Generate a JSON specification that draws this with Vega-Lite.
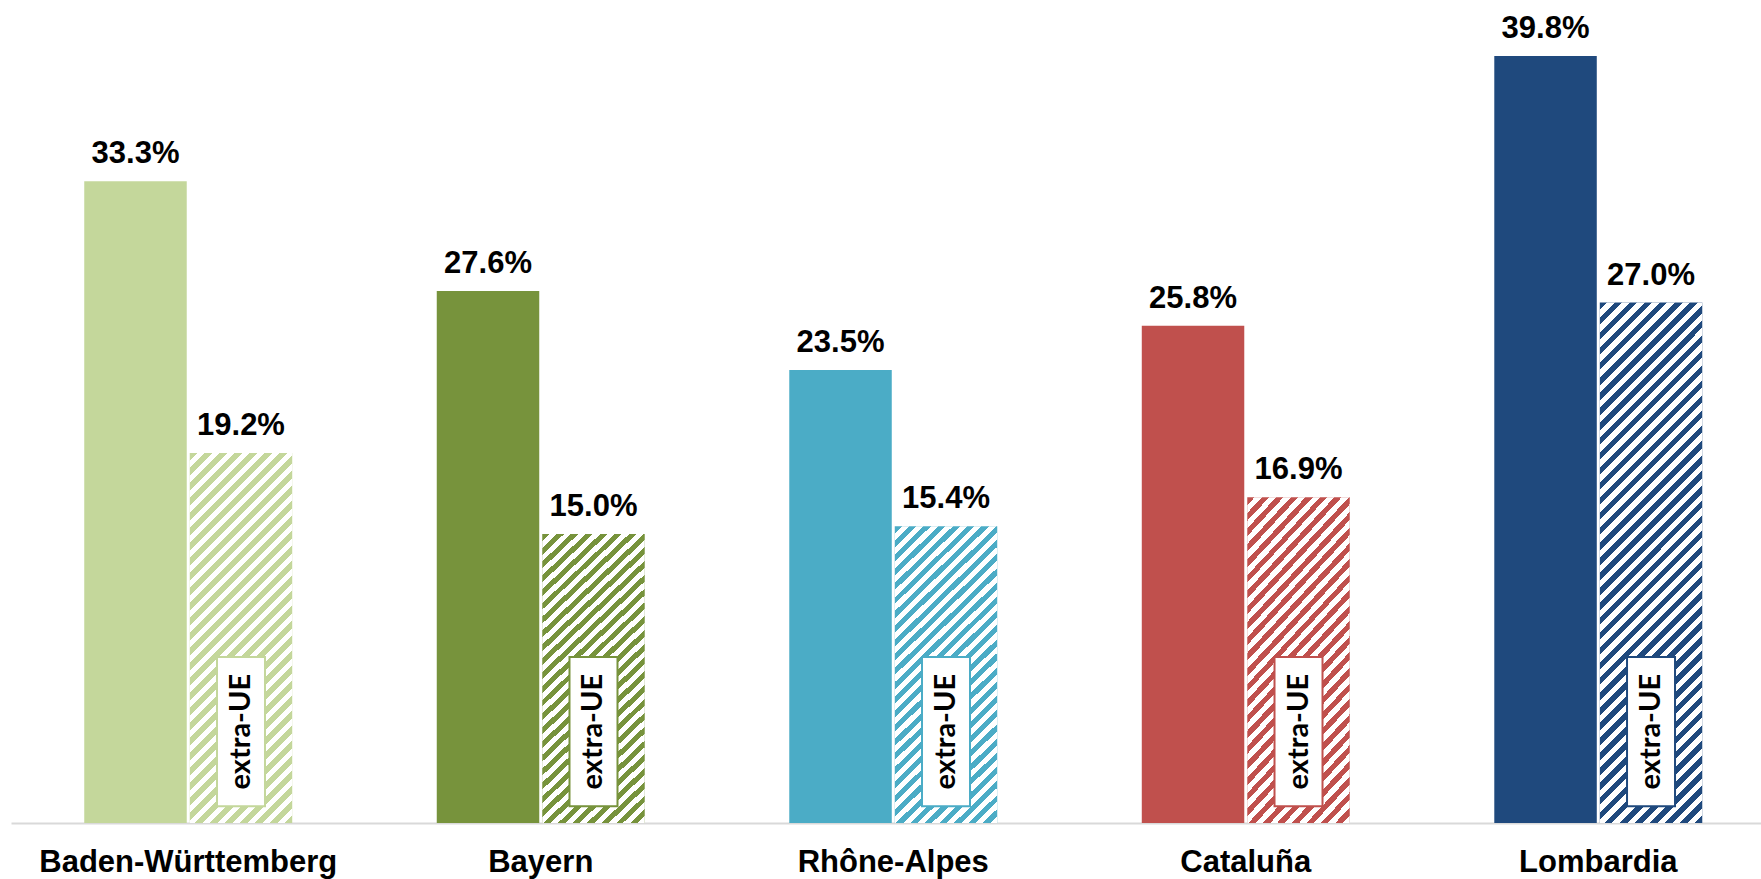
{"$schema":"https://vega.github.io/schema/vega-lite/v6.json",
"width":1750,"height":823,
"autosize":{"type":"none"},
"padding":{"left":11,"top":0,"right":0,"bottom":56},
"background":"white",
"config":{"view":{"stroke":null}},
"data":{"values":[
{"region":"Baden-Württemberg","type":"total","value":0.333},
{"region":"Baden-Württemberg","type":"extra","value":0.192},
{"region":"Bayern","type":"total","value":0.276},
{"region":"Bayern","type":"extra","value":0.150},
{"region":"Rhône-Alpes","type":"total","value":0.235},
{"region":"Rhône-Alpes","type":"extra","value":0.154},
{"region":"Cataluña","type":"total","value":0.258},
{"region":"Cataluña","type":"extra","value":0.169},
{"region":"Lombardia","type":"total","value":0.398},
{"region":"Lombardia","type":"extra","value":0.270}
]},
"encoding":{
"x":{"field":"region","type":"nominal","sort":["Baden-Württemberg","Bayern","Rhône-Alpes","Cataluña","Lombardia"],
"scale":{"paddingInner":0.41,"paddingOuter":0.1872,"align":0.555,"round":false},
"axis":{"title":null,"labelAngle":0,"ticks":false,"tickSize":0,"labelPadding":48,"labelBaseline":"alphabetic","labelFont":"Liberation Sans","labelFontWeight":"bold","labelFontSize":31,"labelColor":"#000","labelLimit":0,"labelOverlap":false,"domainColor":"#d9d9d9","domainWidth":2,"grid":false}},
"xOffset":{"field":"type","type":"nominal","sort":["total","extra"],"scale":{"domain":["total","extra"],"paddingInner":0.02844,"paddingOuter":0,"round":false}}
},
"layer":[
{"mark":{"type":"bar"},
"encoding":{"y":{"field":"value","type":"quantitative","scale":{"domain":[0,0.427],"nice":false,"zero":true},"axis":null},
"color":{"field":"region","type":"nominal","scale":{"domain":["Baden-Württemberg","Bayern","Rhône-Alpes","Cataluña","Lombardia"],"range":["#c4d79b","#77933c","#4bacc6","#c0504d","#1f497d"]},"legend":null}}},
{"transform":[{"filter":"datum.type==='extra' && (datum.region==='Bayern' || datum.region==='Rhône-Alpes' || datum.region==='Cataluña')"}],
"mark":{"type":"bar","fill":{"gradient":"linear","x1":0,"y1":0,"x2":0.405,"y2":1.201,"stops":[
{"offset":0,"color":"transparent"},
{"offset":0.018,"color":"transparent"},{"offset":0.018,"color":"#fff"},
{"offset":0.036,"color":"#fff"},{"offset":0.036,"color":"transparent"},
{"offset":0.054,"color":"transparent"},{"offset":0.054,"color":"#fff"},
{"offset":0.071,"color":"#fff"},{"offset":0.071,"color":"transparent"},
{"offset":0.089,"color":"transparent"},{"offset":0.089,"color":"#fff"},
{"offset":0.107,"color":"#fff"},{"offset":0.107,"color":"transparent"},
{"offset":0.125,"color":"transparent"},{"offset":0.125,"color":"#fff"},
{"offset":0.143,"color":"#fff"},{"offset":0.143,"color":"transparent"},
{"offset":0.161,"color":"transparent"},{"offset":0.161,"color":"#fff"},
{"offset":0.179,"color":"#fff"},{"offset":0.179,"color":"transparent"},
{"offset":0.196,"color":"transparent"},{"offset":0.196,"color":"#fff"},
{"offset":0.214,"color":"#fff"},{"offset":0.214,"color":"transparent"},
{"offset":0.232,"color":"transparent"},{"offset":0.232,"color":"#fff"},
{"offset":0.25,"color":"#fff"},{"offset":0.25,"color":"transparent"},
{"offset":0.268,"color":"transparent"},{"offset":0.268,"color":"#fff"},
{"offset":0.286,"color":"#fff"},{"offset":0.286,"color":"transparent"},
{"offset":0.304,"color":"transparent"},{"offset":0.304,"color":"#fff"},
{"offset":0.321,"color":"#fff"},{"offset":0.321,"color":"transparent"},
{"offset":0.339,"color":"transparent"},{"offset":0.339,"color":"#fff"},
{"offset":0.357,"color":"#fff"},{"offset":0.357,"color":"transparent"},
{"offset":0.375,"color":"transparent"},{"offset":0.375,"color":"#fff"},
{"offset":0.393,"color":"#fff"},{"offset":0.393,"color":"transparent"},
{"offset":0.411,"color":"transparent"},{"offset":0.411,"color":"#fff"},
{"offset":0.429,"color":"#fff"},{"offset":0.429,"color":"transparent"},
{"offset":0.446,"color":"transparent"},{"offset":0.446,"color":"#fff"},
{"offset":0.464,"color":"#fff"},{"offset":0.464,"color":"transparent"},
{"offset":0.482,"color":"transparent"},{"offset":0.482,"color":"#fff"},
{"offset":0.5,"color":"#fff"},{"offset":0.5,"color":"transparent"},
{"offset":0.518,"color":"transparent"},{"offset":0.518,"color":"#fff"},
{"offset":0.536,"color":"#fff"},{"offset":0.536,"color":"transparent"},
{"offset":0.554,"color":"transparent"},{"offset":0.554,"color":"#fff"},
{"offset":0.571,"color":"#fff"},{"offset":0.571,"color":"transparent"},
{"offset":0.589,"color":"transparent"},{"offset":0.589,"color":"#fff"},
{"offset":0.607,"color":"#fff"},{"offset":0.607,"color":"transparent"},
{"offset":0.625,"color":"transparent"},{"offset":0.625,"color":"#fff"},
{"offset":0.643,"color":"#fff"},{"offset":0.643,"color":"transparent"},
{"offset":0.661,"color":"transparent"},{"offset":0.661,"color":"#fff"},
{"offset":0.679,"color":"#fff"},{"offset":0.679,"color":"transparent"},
{"offset":0.696,"color":"transparent"},{"offset":0.696,"color":"#fff"},
{"offset":0.714,"color":"#fff"},{"offset":0.714,"color":"transparent"},
{"offset":0.732,"color":"transparent"},{"offset":0.732,"color":"#fff"},
{"offset":0.75,"color":"#fff"},{"offset":0.75,"color":"transparent"},
{"offset":0.768,"color":"transparent"},{"offset":0.768,"color":"#fff"},
{"offset":0.786,"color":"#fff"},{"offset":0.786,"color":"transparent"},
{"offset":0.804,"color":"transparent"},{"offset":0.804,"color":"#fff"},
{"offset":0.821,"color":"#fff"},{"offset":0.821,"color":"transparent"},
{"offset":0.839,"color":"transparent"},{"offset":0.839,"color":"#fff"},
{"offset":0.857,"color":"#fff"},{"offset":0.857,"color":"transparent"},
{"offset":0.875,"color":"transparent"},{"offset":0.875,"color":"#fff"},
{"offset":0.893,"color":"#fff"},{"offset":0.893,"color":"transparent"},
{"offset":0.911,"color":"transparent"},{"offset":0.911,"color":"#fff"},
{"offset":0.929,"color":"#fff"},{"offset":0.929,"color":"transparent"},
{"offset":0.946,"color":"transparent"},{"offset":0.946,"color":"#fff"},
{"offset":0.964,"color":"#fff"},{"offset":0.964,"color":"transparent"},
{"offset":0.982,"color":"transparent"},{"offset":0.982,"color":"#fff"},
{"offset":1,"color":"#fff"}]}},
"encoding":{"y":{"field":"value","type":"quantitative"}}},
{"transform":[{"filter":"datum.type==='extra' && datum.region==='Baden-Württemberg'"}],
"mark":{"type":"bar","fill":{"gradient":"linear","x1":0,"y1":0,"x2":0.3285,"y2":1.186,"stops":[
{"offset":0,"color":"transparent"},
{"offset":0.016,"color":"transparent"},{"offset":0.016,"color":"#fff"},
{"offset":0.032,"color":"#fff"},{"offset":0.032,"color":"transparent"},
{"offset":0.048,"color":"transparent"},{"offset":0.048,"color":"#fff"},
{"offset":0.063,"color":"#fff"},{"offset":0.063,"color":"transparent"},
{"offset":0.079,"color":"transparent"},{"offset":0.079,"color":"#fff"},
{"offset":0.095,"color":"#fff"},{"offset":0.095,"color":"transparent"},
{"offset":0.111,"color":"transparent"},{"offset":0.111,"color":"#fff"},
{"offset":0.127,"color":"#fff"},{"offset":0.127,"color":"transparent"},
{"offset":0.143,"color":"transparent"},{"offset":0.143,"color":"#fff"},
{"offset":0.159,"color":"#fff"},{"offset":0.159,"color":"transparent"},
{"offset":0.175,"color":"transparent"},{"offset":0.175,"color":"#fff"},
{"offset":0.19,"color":"#fff"},{"offset":0.19,"color":"transparent"},
{"offset":0.206,"color":"transparent"},{"offset":0.206,"color":"#fff"},
{"offset":0.222,"color":"#fff"},{"offset":0.222,"color":"transparent"},
{"offset":0.238,"color":"transparent"},{"offset":0.238,"color":"#fff"},
{"offset":0.254,"color":"#fff"},{"offset":0.254,"color":"transparent"},
{"offset":0.27,"color":"transparent"},{"offset":0.27,"color":"#fff"},
{"offset":0.286,"color":"#fff"},{"offset":0.286,"color":"transparent"},
{"offset":0.302,"color":"transparent"},{"offset":0.302,"color":"#fff"},
{"offset":0.317,"color":"#fff"},{"offset":0.317,"color":"transparent"},
{"offset":0.333,"color":"transparent"},{"offset":0.333,"color":"#fff"},
{"offset":0.349,"color":"#fff"},{"offset":0.349,"color":"transparent"},
{"offset":0.365,"color":"transparent"},{"offset":0.365,"color":"#fff"},
{"offset":0.381,"color":"#fff"},{"offset":0.381,"color":"transparent"},
{"offset":0.397,"color":"transparent"},{"offset":0.397,"color":"#fff"},
{"offset":0.413,"color":"#fff"},{"offset":0.413,"color":"transparent"},
{"offset":0.429,"color":"transparent"},{"offset":0.429,"color":"#fff"},
{"offset":0.444,"color":"#fff"},{"offset":0.444,"color":"transparent"},
{"offset":0.46,"color":"transparent"},{"offset":0.46,"color":"#fff"},
{"offset":0.476,"color":"#fff"},{"offset":0.476,"color":"transparent"},
{"offset":0.492,"color":"transparent"},{"offset":0.492,"color":"#fff"},
{"offset":0.508,"color":"#fff"},{"offset":0.508,"color":"transparent"},
{"offset":0.524,"color":"transparent"},{"offset":0.524,"color":"#fff"},
{"offset":0.54,"color":"#fff"},{"offset":0.54,"color":"transparent"},
{"offset":0.556,"color":"transparent"},{"offset":0.556,"color":"#fff"},
{"offset":0.571,"color":"#fff"},{"offset":0.571,"color":"transparent"},
{"offset":0.587,"color":"transparent"},{"offset":0.587,"color":"#fff"},
{"offset":0.603,"color":"#fff"},{"offset":0.603,"color":"transparent"},
{"offset":0.619,"color":"transparent"},{"offset":0.619,"color":"#fff"},
{"offset":0.635,"color":"#fff"},{"offset":0.635,"color":"transparent"},
{"offset":0.651,"color":"transparent"},{"offset":0.651,"color":"#fff"},
{"offset":0.667,"color":"#fff"},{"offset":0.667,"color":"transparent"},
{"offset":0.683,"color":"transparent"},{"offset":0.683,"color":"#fff"},
{"offset":0.698,"color":"#fff"},{"offset":0.698,"color":"transparent"},
{"offset":0.714,"color":"transparent"},{"offset":0.714,"color":"#fff"},
{"offset":0.73,"color":"#fff"},{"offset":0.73,"color":"transparent"},
{"offset":0.746,"color":"transparent"},{"offset":0.746,"color":"#fff"},
{"offset":0.762,"color":"#fff"},{"offset":0.762,"color":"transparent"},
{"offset":0.778,"color":"transparent"},{"offset":0.778,"color":"#fff"},
{"offset":0.794,"color":"#fff"},{"offset":0.794,"color":"transparent"},
{"offset":0.81,"color":"transparent"},{"offset":0.81,"color":"#fff"},
{"offset":0.825,"color":"#fff"},{"offset":0.825,"color":"transparent"},
{"offset":0.841,"color":"transparent"},{"offset":0.841,"color":"#fff"},
{"offset":0.857,"color":"#fff"},{"offset":0.857,"color":"transparent"},
{"offset":0.873,"color":"transparent"},{"offset":0.873,"color":"#fff"},
{"offset":0.889,"color":"#fff"},{"offset":0.889,"color":"transparent"},
{"offset":0.905,"color":"transparent"},{"offset":0.905,"color":"#fff"},
{"offset":0.921,"color":"#fff"},{"offset":0.921,"color":"transparent"},
{"offset":0.937,"color":"transparent"},{"offset":0.937,"color":"#fff"},
{"offset":0.952,"color":"#fff"},{"offset":0.952,"color":"transparent"},
{"offset":0.968,"color":"transparent"},{"offset":0.968,"color":"#fff"},
{"offset":0.984,"color":"#fff"},{"offset":0.984,"color":"transparent"},
{"offset":1,"color":"transparent"}]}},
"encoding":{"y":{"field":"value","type":"quantitative"}}},
{"transform":[{"filter":"datum.type==='extra' && datum.region==='Lombardia'"}],
"mark":{"type":"bar","fill":{"gradient":"linear","x1":0,"y1":0,"x2":0.227,"y2":1.152,"stops":[
{"offset":0,"color":"transparent"},
{"offset":0.012,"color":"transparent"},{"offset":0.012,"color":"#fff"},
{"offset":0.024,"color":"#fff"},{"offset":0.024,"color":"transparent"},
{"offset":0.036,"color":"transparent"},{"offset":0.036,"color":"#fff"},
{"offset":0.048,"color":"#fff"},{"offset":0.048,"color":"transparent"},
{"offset":0.06,"color":"transparent"},{"offset":0.06,"color":"#fff"},
{"offset":0.072,"color":"#fff"},{"offset":0.072,"color":"transparent"},
{"offset":0.084,"color":"transparent"},{"offset":0.084,"color":"#fff"},
{"offset":0.096,"color":"#fff"},{"offset":0.096,"color":"transparent"},
{"offset":0.108,"color":"transparent"},{"offset":0.108,"color":"#fff"},
{"offset":0.12,"color":"#fff"},{"offset":0.12,"color":"transparent"},
{"offset":0.133,"color":"transparent"},{"offset":0.133,"color":"#fff"},
{"offset":0.145,"color":"#fff"},{"offset":0.145,"color":"transparent"},
{"offset":0.157,"color":"transparent"},{"offset":0.157,"color":"#fff"},
{"offset":0.169,"color":"#fff"},{"offset":0.169,"color":"transparent"},
{"offset":0.181,"color":"transparent"},{"offset":0.181,"color":"#fff"},
{"offset":0.193,"color":"#fff"},{"offset":0.193,"color":"transparent"},
{"offset":0.205,"color":"transparent"},{"offset":0.205,"color":"#fff"},
{"offset":0.217,"color":"#fff"},{"offset":0.217,"color":"transparent"},
{"offset":0.229,"color":"transparent"},{"offset":0.229,"color":"#fff"},
{"offset":0.241,"color":"#fff"},{"offset":0.241,"color":"transparent"},
{"offset":0.253,"color":"transparent"},{"offset":0.253,"color":"#fff"},
{"offset":0.265,"color":"#fff"},{"offset":0.265,"color":"transparent"},
{"offset":0.277,"color":"transparent"},{"offset":0.277,"color":"#fff"},
{"offset":0.289,"color":"#fff"},{"offset":0.289,"color":"transparent"},
{"offset":0.301,"color":"transparent"},{"offset":0.301,"color":"#fff"},
{"offset":0.313,"color":"#fff"},{"offset":0.313,"color":"transparent"},
{"offset":0.325,"color":"transparent"},{"offset":0.325,"color":"#fff"},
{"offset":0.337,"color":"#fff"},{"offset":0.337,"color":"transparent"},
{"offset":0.349,"color":"transparent"},{"offset":0.349,"color":"#fff"},
{"offset":0.361,"color":"#fff"},{"offset":0.361,"color":"transparent"},
{"offset":0.373,"color":"transparent"},{"offset":0.373,"color":"#fff"},
{"offset":0.386,"color":"#fff"},{"offset":0.386,"color":"transparent"},
{"offset":0.398,"color":"transparent"},{"offset":0.398,"color":"#fff"},
{"offset":0.41,"color":"#fff"},{"offset":0.41,"color":"transparent"},
{"offset":0.422,"color":"transparent"},{"offset":0.422,"color":"#fff"},
{"offset":0.434,"color":"#fff"},{"offset":0.434,"color":"transparent"},
{"offset":0.446,"color":"transparent"},{"offset":0.446,"color":"#fff"},
{"offset":0.458,"color":"#fff"},{"offset":0.458,"color":"transparent"},
{"offset":0.47,"color":"transparent"},{"offset":0.47,"color":"#fff"},
{"offset":0.482,"color":"#fff"},{"offset":0.482,"color":"transparent"},
{"offset":0.494,"color":"transparent"},{"offset":0.494,"color":"#fff"},
{"offset":0.506,"color":"#fff"},{"offset":0.506,"color":"transparent"},
{"offset":0.518,"color":"transparent"},{"offset":0.518,"color":"#fff"},
{"offset":0.53,"color":"#fff"},{"offset":0.53,"color":"transparent"},
{"offset":0.542,"color":"transparent"},{"offset":0.542,"color":"#fff"},
{"offset":0.554,"color":"#fff"},{"offset":0.554,"color":"transparent"},
{"offset":0.566,"color":"transparent"},{"offset":0.566,"color":"#fff"},
{"offset":0.578,"color":"#fff"},{"offset":0.578,"color":"transparent"},
{"offset":0.59,"color":"transparent"},{"offset":0.59,"color":"#fff"},
{"offset":0.602,"color":"#fff"},{"offset":0.602,"color":"transparent"},
{"offset":0.614,"color":"transparent"},{"offset":0.614,"color":"#fff"},
{"offset":0.627,"color":"#fff"},{"offset":0.627,"color":"transparent"},
{"offset":0.639,"color":"transparent"},{"offset":0.639,"color":"#fff"},
{"offset":0.651,"color":"#fff"},{"offset":0.651,"color":"transparent"},
{"offset":0.663,"color":"transparent"},{"offset":0.663,"color":"#fff"},
{"offset":0.675,"color":"#fff"},{"offset":0.675,"color":"transparent"},
{"offset":0.687,"color":"transparent"},{"offset":0.687,"color":"#fff"},
{"offset":0.699,"color":"#fff"},{"offset":0.699,"color":"transparent"},
{"offset":0.711,"color":"transparent"},{"offset":0.711,"color":"#fff"},
{"offset":0.723,"color":"#fff"},{"offset":0.723,"color":"transparent"},
{"offset":0.735,"color":"transparent"},{"offset":0.735,"color":"#fff"},
{"offset":0.747,"color":"#fff"},{"offset":0.747,"color":"transparent"},
{"offset":0.759,"color":"transparent"},{"offset":0.759,"color":"#fff"},
{"offset":0.771,"color":"#fff"},{"offset":0.771,"color":"transparent"},
{"offset":0.783,"color":"transparent"},{"offset":0.783,"color":"#fff"},
{"offset":0.795,"color":"#fff"},{"offset":0.795,"color":"transparent"},
{"offset":0.807,"color":"transparent"},{"offset":0.807,"color":"#fff"},
{"offset":0.819,"color":"#fff"},{"offset":0.819,"color":"transparent"},
{"offset":0.831,"color":"transparent"},{"offset":0.831,"color":"#fff"},
{"offset":0.843,"color":"#fff"},{"offset":0.843,"color":"transparent"},
{"offset":0.855,"color":"transparent"},{"offset":0.855,"color":"#fff"},
{"offset":0.867,"color":"#fff"},{"offset":0.867,"color":"transparent"},
{"offset":0.88,"color":"transparent"},{"offset":0.88,"color":"#fff"},
{"offset":0.892,"color":"#fff"},{"offset":0.892,"color":"transparent"},
{"offset":0.904,"color":"transparent"},{"offset":0.904,"color":"#fff"},
{"offset":0.916,"color":"#fff"},{"offset":0.916,"color":"transparent"},
{"offset":0.928,"color":"transparent"},{"offset":0.928,"color":"#fff"},
{"offset":0.94,"color":"#fff"},{"offset":0.94,"color":"transparent"},
{"offset":0.952,"color":"transparent"},{"offset":0.952,"color":"#fff"},
{"offset":0.964,"color":"#fff"},{"offset":0.964,"color":"transparent"},
{"offset":0.976,"color":"transparent"},{"offset":0.976,"color":"#fff"},
{"offset":0.988,"color":"#fff"},{"offset":0.988,"color":"transparent"},
{"offset":1,"color":"transparent"}]}},
"encoding":{"y":{"field":"value","type":"quantitative"}}},
{"transform":[{"filter":"datum.type==='extra'"}],
"mark":{"type":"bar","width":48,"fill":"white","strokeWidth":2},
"encoding":{"y":{"datum":0.0087,"type":"quantitative"},"y2":{"datum":0.0861},
"stroke":{"field":"region","type":"nominal","scale":{"domain":["Baden-Württemberg","Bayern","Rhône-Alpes","Cataluña","Lombardia"],"range":["#c4d79b","#77933c","#4bacc6","#c0504d","#1f497d"]},"legend":null}}},
{"transform":[{"filter":"datum.type==='extra'"}],
"mark":{"type":"text","text":"extra-UE","angle":270,"align":"center","baseline":"middle","font":"Lato","fontWeight":"bold","fontSize":29,"color":"#000"},
"encoding":{"y":{"datum":0.0474,"type":"quantitative"}}},
{"mark":{"type":"text","dy":-18,"baseline":"alphabetic","align":"center","font":"Liberation Sans","fontWeight":"bold","fontSize":31,"color":"#000"},
"encoding":{"y":{"field":"value","type":"quantitative"},"text":{"field":"value","type":"quantitative","format":".1%"}}}
]}
